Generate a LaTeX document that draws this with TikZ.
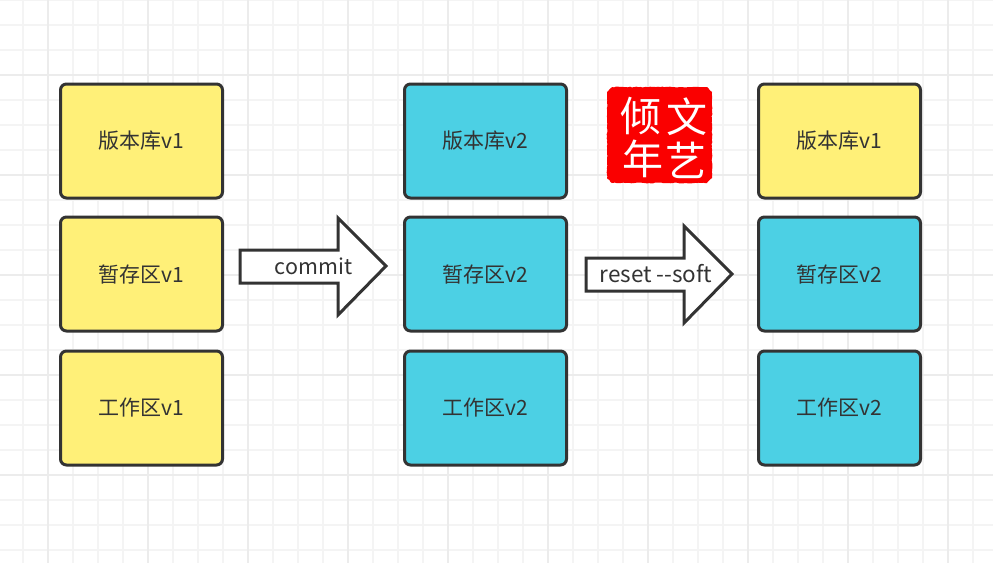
\documentclass[tikz,border=0pt]{standalone}
\usepackage{fontspec}
\setmainfont{Noto Sans CJK SC}
\usepackage{xcolor}
\usetikzlibrary{decorations.pathmorphing}
\definecolor{gridminor}{RGB}{244, 244, 244}
\definecolor{gridmajor}{RGB}{236, 236, 236}
\definecolor{boxyellow}{RGB}{255, 240, 120}
\definecolor{boxblue}{RGB}{76, 208, 228}
\definecolor{inkdark}{RGB}{51, 51, 51}
\definecolor{sealred}{RGB}{250, 0, 0}
\tikzset{
  stagebox/.style={draw=inkdark, line width=3pt, rounded corners=6pt, minimum width=162pt, minimum height=114pt, inner sep=0pt, text=inkdark, font=\fontsize{21}{25}\selectfont},
  v1box/.style={stagebox, fill=boxyellow},
  v2box/.style={stagebox, fill=boxblue},
  blockarrow/.style={draw=inkdark, line width=3pt, fill=white, miter limit=10},
  arrowlabel/.style={text=inkdark, inner sep=0pt, font=\fontsize{21.5}{25}\selectfont},
  sealchar/.style={text=white, inner sep=0pt, font=\fontsize{41}{43}\selectfont}
}

\begin{document}
\begin{tikzpicture}[x=1pt, y=-1pt]
    \useasboundingbox (0,0) rectangle (993,563);
    \fill[white] (0,0) rectangle (993,563);

    %% grid
    \foreach \x in {23,73,98,123,173,198,223,273,298,323,373,398,423,473,498,523,573,598,623,673,698,723,773,798,823,873,898,923,973}
      \draw[gridminor, line width=1.5pt] (\x,0) -- (\x,563);
    \foreach \y in {0,25,50,100,125,150,200,225,250,300,325,350,400,425,450,500,525,550}
      \draw[gridminor, line width=1.5pt] (0,\y) -- (993,\y);
    \foreach \x in {48,148,248,348,448,548,648,748,848,948}
      \draw[gridmajor, line width=1.5pt] (\x,0) -- (\x,563);
    \foreach \y in {75,175,275,375,475}
      \draw[gridmajor, line width=1.5pt] (0,\y) -- (993,\y);

    %% first column
    \node[v1box] (repoa) at (141.5,141) {版本库v1};
    \node[v1box] (stagea) at (141.5,274) {暂存区v1};
    \node[v1box] (worka) at (141.5,408) {工作区v1};

    %% second column
    \node[v2box] (repob) at (485.5,141) {版本库v2};
    \node[v2box] (stageb) at (485.5,274) {暂存区v2};
    \node[v2box] (workb) at (485.5,408) {工作区v2};

    %% third column
    \node[v1box] (repoc) at (839.5,141) {版本库v1};
    \node[v2box] (stagec) at (839.5,274) {暂存区v2};
    \node[v2box] (workc) at (839.5,408) {工作区v2};

    %% commit arrow
    \draw[blockarrow] (240,250) -- (338,250) -- (338,218) -- (386,266) -- (338,315) -- (338,283) -- (240,283) -- cycle;
    \node[arrowlabel] (commit) at (313.5,266) {commit};

    %% reset arrow
    \draw[blockarrow] (586,258) -- (684,258) -- (684,226) -- (732,274) -- (684,323) -- (684,291) -- (586,291) -- cycle;
    \node[arrowlabel, font=\fontsize{22.5}{26}\selectfont] (reset) at (656,274) {reset -{}-soft};

    %% seal
    \fill[sealred, decorate, decoration={random steps, segment length=2pt, amplitude=0.4pt}] (612,87) -- (707,87) -- (712,92) -- (712,178) -- (707,183) -- (612,183) -- (607,178) -- (607,92) -- cycle;
    \node[sealchar] (sealqing) at (641,116) {倾};
    \node[sealchar] (sealnian) at (643,159) {年};
    \node[sealchar] (sealwen) at (687,117) {文};
    \node[sealchar] (sealyi) at (686,160) {艺};
  \end{tikzpicture}
\end{document}
